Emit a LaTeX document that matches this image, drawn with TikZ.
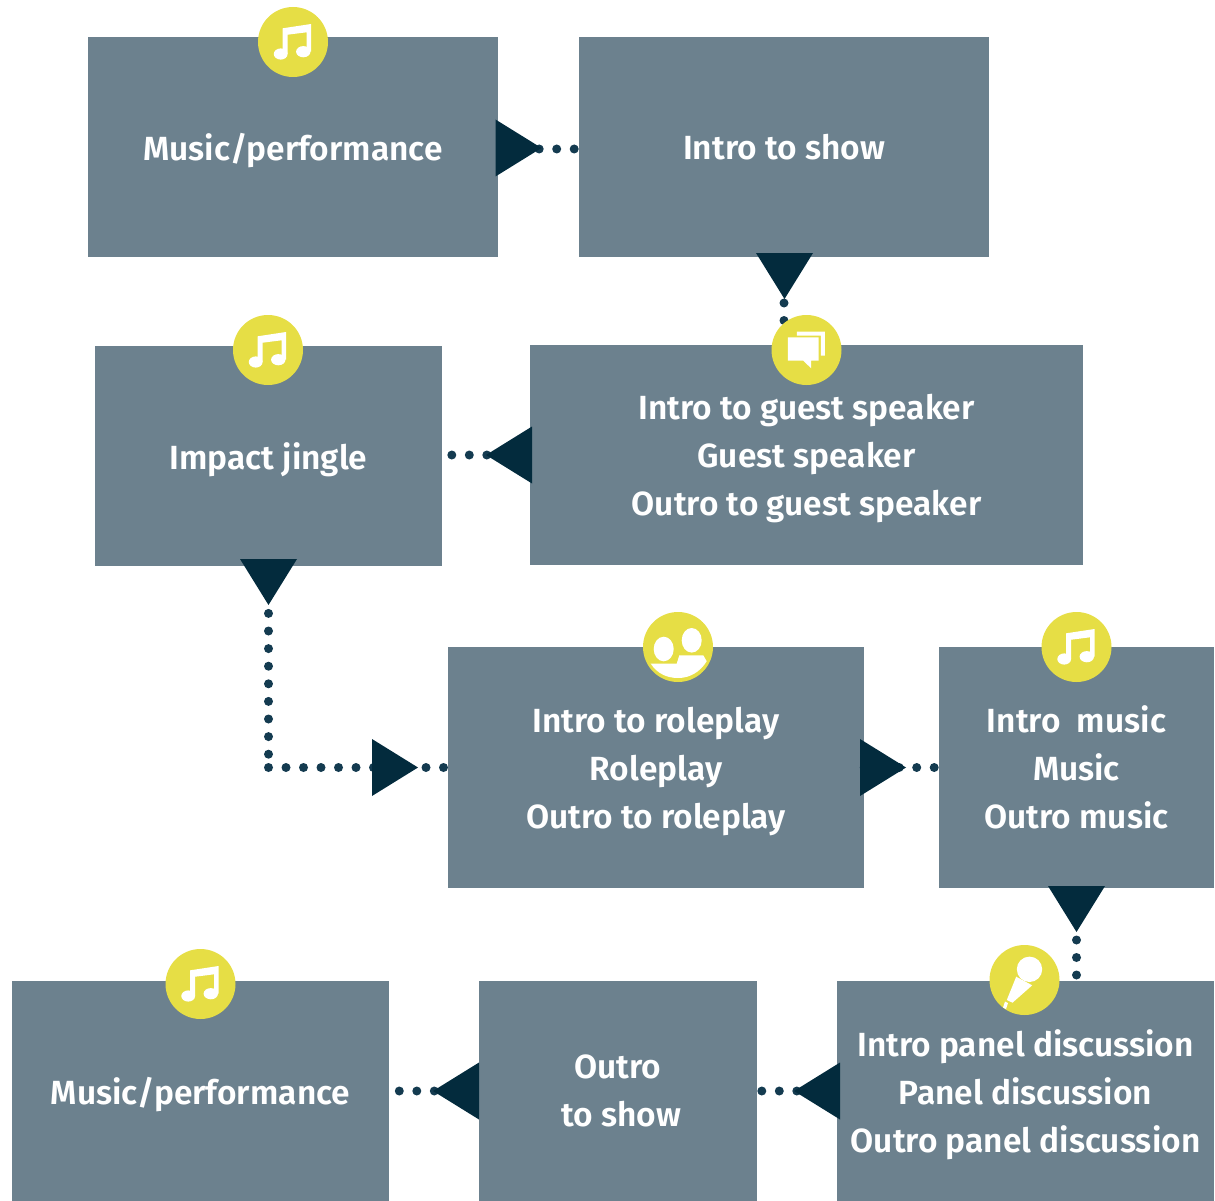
\documentclass[tikz,border=0pt]{standalone}
\usepackage{fontspec}
\setmainfont{Fira Sans}[BoldFont=Fira Sans SemiBold]
\definecolor{boxgrey}{HTML}{6C818E}
\definecolor{iconyellow}{HTML}{E6DE45}
\definecolor{tridark}{HTML}{032B3D}
\definecolor{dotdark}{HTML}{143B50}
\tikzset{
 stepbox/.style={fill=boxgrey,draw=none,inner sep=0pt,text=white,align=center,font=\fontsize{33.5}{48}\selectfont\bfseries,text depth=-3pt},
 dotlink/.style={dotdark,line width=9pt,line cap=round,dash pattern=on 0pt off 17.5pt},
 badge/.style={circle,fill=iconyellow,minimum size=70pt,inner sep=0pt},
 pics/triR/.style={code={\fill[tridark] (0,0)--(-46,-28.5)--(-46,28.5)--cycle;}},
 pics/triL/.style={code={\fill[tridark] (0,0)--(46,-28.5)--(46,28.5)--cycle;}},
 pics/triD/.style={code={\fill[tridark] (0,0)--(-28.5,-46)--(28.5,-46)--cycle;}},
 pics/noteicon/.style={code={\fill[white] (-10.3,-13.7)--(18,-18)--(18,9.7)--(13.7,9.7)--(13.7,-9.7)--(-5.3,-7.3)--(-5.3,12)--(-10.3,12)--cycle;
   \fill[white] (-12.3,12) ellipse[x radius=6.9,y radius=5.6];
   \fill[white] (10.3,9.7) ellipse[x radius=7.2,y radius=5.6];}},
 pics/chaticon/.style={code={\fill[white] (-18.7,-12.7)--(12,-12.7)--(12,10.7)--(4.7,10.7)--(4.7,18.3)--(-3.3,10.7)--(-18.7,10.7)--cycle;
   \fill[white] (-9.7,-18.3)--(18.3,-18.3)--(18.3,5.7)--(14.3,5.7)--(14.3,-14.3)--(-9.7,-14.3)--cycle;}},
 pics/peopleicon/.style={code={\fill[white] (-14.3,2) ellipse[x radius=10,y radius=12.3];
   \fill[white] (13.7,-6.7) ellipse[x radius=10,y radius=12.3];
   \fill[white] (-27.3,16.7)--(-1.3,16.7)--(1.3,8.3)--(25.3,8.3)--(28.7,14.3) .. controls (22,25) and (12,31) .. (0,31) .. controls (-12,31) and (-21,26) .. cycle;}},
 pics/micicon/.style={code={\fill[white] (5,-10.7) circle[radius=12.7];
   \fill[white] (-8.3,-3.3)--(7.7,5.3)--(-12,22.7)--(-17.7,20)--cycle;
   \fill[white] (-19.5,21.5)--(-16.5,23)--(-18.5,29)--(-21.5,27.5)--cycle;}},
}
\begin{document}
\begin{tikzpicture}[x=1pt,y=-1pt]
\useasboundingbox (0,0) rectangle (1215,1201);
% boxes
\node[stepbox,minimum width=410pt,minimum height=220pt] (A) at (293,147) {Music/performance};
\node[stepbox,minimum width=410pt,minimum height=220pt,text depth=-4pt] (B) at (784,147) {Intro to show};
\node[stepbox,minimum width=553pt,minimum height=220pt,text depth=-6pt] (C) at (806.5,455) {Intro to guest speaker\\Guest speaker\\Outro to guest speaker};
\node[stepbox,minimum width=347pt,minimum height=220pt] (D) at (268.5,456) {Impact jingle};
\node[stepbox,minimum width=416pt,minimum height=241pt] (E) at (656,767.5) {Intro to roleplay\\Roleplay\\Outro to roleplay};
\node[stepbox,minimum width=275pt,minimum height=241pt] (F) at (1076.5,767.5) {Intro\ \ music\\Music\\Outro music};
\node[stepbox,minimum width=377pt,minimum height=220pt,text depth=-2pt] (G) at (1025.5,1091) {Intro panel discussion\\Panel discussion\\Outro panel discussion};
\node[stepbox,minimum width=278pt,minimum height=220pt,text depth=-6pt] (H) at (618,1091) {Outro\\\hspace{7pt}to show};
\node[stepbox,minimum width=377pt,minimum height=220pt] (I) at (200.5,1091) {Music/performance};
% connectors
\draw[dotlink,shorten <=6pt] (A.east|-0,149) -- (B.west|-0,149);
\draw[dotlink,shorten <=10.8pt] (B.south) -- (B.south|-C.north);
\draw[dotlink,shorten <=8pt] (C.west) -- (C.west-|D.east);
\draw[dotlink,dash pattern=on 0pt off 17.6pt,shorten <=12pt,shorten >=6pt] (D.south) -- (D.south|-E.west);
\draw[dotlink] (D.south|-E.west) -- (E.west);
\draw[dotlink] (E.east) -- (F.west);
\draw[dotlink,shorten <=16.8pt] (F.south) -- (F.south|-G.north);
\draw[dotlink,shorten <=5pt] (G.west) -- (H.east);
\draw[dotlink,shorten <=9.5pt] (H.west) -- (I.east);
% arrowheads
\pic at (541.5,148) {triR};
\pic at (784.5,299) {triD};
\pic at (486,455) {triL};
\pic at (268.5,605) {triD};
\pic at (418,767.5) {triR};
\pic at (906,767.5) {triR};
\pic at (1076.5,932) {triD};
\pic at (794,1091) {triL};
\pic at (433,1091) {triL};
% badges
\node[badge] (b1) at (293,42) {}; \pic at (b1) {noteicon};
\node[badge] (b2) at (806.5,350) {}; \pic at (b2) {chaticon};
\node[badge] (b3) at (268,350) {}; \pic at (b3) {noteicon};
\node[badge] (b4) at (678,647) {}; \pic at (b4) {peopleicon};
\node[badge] (b5) at (1076.5,647) {}; \pic at (b5) {noteicon};
\node[badge] (b6) at (1024.5,980) {}; \pic at (b6) {micicon};
\node[badge] (b7) at (200.5,984) {}; \pic at (b7) {noteicon};
\end{tikzpicture}
\end{document}
